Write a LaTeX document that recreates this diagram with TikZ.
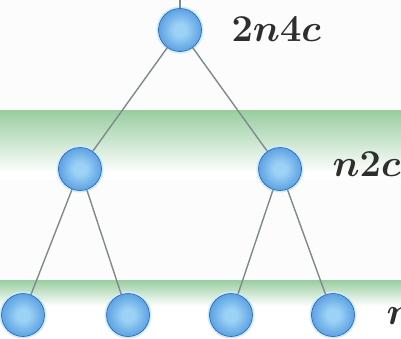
\RequirePackage{fix-cm}
\documentclass[tikz,border=0pt]{standalone}
\usepackage{amsmath}
\usepackage{tikz}
\usetikzlibrary{positioning}
\definecolor{beadhi}{HTML}{9CD2F6}
\definecolor{beadmid}{HTML}{448FDB}
\definecolor{beadrim}{HTML}{2862B3}
\definecolor{beadglow}{HTML}{CDEBFA}
\definecolor{bandgreen}{HTML}{98CD9F}
\definecolor{linkgray}{HTML}{7E8A8C}
\definecolor{labelgray}{HTML}{2E2E2E}
\pgfdeclareradialshading{bluebead}{\pgfpoint{0bp}{0bp}}{%
  color(0bp)=(beadhi); color(7bp)=(beadhi); color(32bp)=(beadmid); color(46bp)=(beadrim); color(50bp)=(beadrim)}
\tikzset{
  bead/.style={circle, minimum size=43pt, inner sep=0pt, shading=bluebead,
    draw=beadrim, line width=0.6pt,
    preaction={draw=beadglow, line width=4pt}},
  link/.style={draw=linkgray, line width=1.4pt},
  band/.style={top color=bandgreen, bottom color=white, draw=none},
  lbl/.style={anchor=west, text=labelgray, font=\fontsize{38}{46}\selectfont\boldmath}
}
\begin{document}
\begin{tikzpicture}[x=1pt,y=1pt]
  % background and shaded bands
  \useasboundingbox (0,0) rectangle (401,338);
  \fill[white!99!black] (0,0) rectangle (401,338);
  \fill[white] (0,158) rectangle (401,228);
  \shade[band] (0,165) rectangle (401,228);
  \fill[white] (0,0) rectangle (401,58);
  \shade[band] (0,32) rectangle (401,58);

  % nodes
  \coordinate (stub) at (180,338);
  \node[bead] (root) at (180,308) {};
  \node[bead] (midL) at (80,169) {};
  \node[bead] (midR) at (280,169) {};
  \node[bead] (leafA) at (23,23) {};
  \node[bead] (leafB) at (128,23) {};
  \node[bead] (leafC) at (231,23) {};
  \node[bead] (leafD) at (333,23) {};

  % links
  \draw[link] (stub) -- (root);
  \draw[link] (root) -- (midL);
  \draw[link] (root) -- (midR);
  \draw[link] (midL) -- (leafA);
  \draw[link] (midL) -- (leafB);
  \draw[link] (midR) -- (leafC);
  \draw[link] (midR) -- (leafD);

  % level labels
  \node[lbl] (topcost) at (228,309) {$2n4c$};
  \node[lbl] (midcost) at (329,174) {$n2c$};
  \node[lbl] (lowcost) at (383,22) {$n$};
\end{tikzpicture}
\end{document}
